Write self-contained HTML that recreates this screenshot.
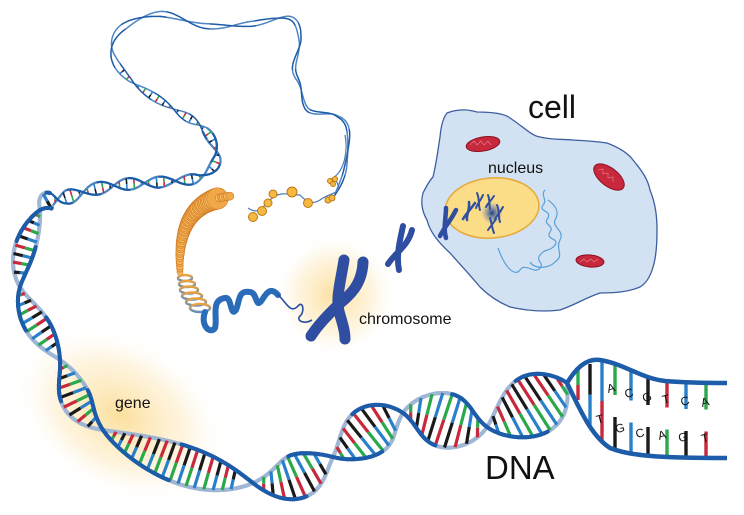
<!DOCTYPE html>
<html><head><meta charset="utf-8"><style>
html,body{margin:0;padding:0;background:#fff;width:744px;height:515px;overflow:hidden;}
svg{display:block;overflow:hidden;}
text{font-family:"Liberation Sans",Arial,sans-serif;fill:#111;}
</style></head><body>
<svg id="s" width="744" height="515" viewBox="0 0 744 515" xmlns="http://www.w3.org/2000/svg">
<defs>
<radialGradient id="glow"><stop offset="0" stop-color="#fbd98a" stop-opacity="0.85"/><stop offset="0.6" stop-color="#fde9bd" stop-opacity="0.5"/><stop offset="1" stop-color="#fff" stop-opacity="0"/></radialGradient>
<radialGradient id="blob"><stop offset="0" stop-color="#1d3f8a"/><stop offset="1" stop-color="#6f86c0" stop-opacity="0"/></radialGradient>
<linearGradient id="spr" x1="0" y1="0" x2="0" y2="1"><stop offset="0" stop-color="#f0a33c"/><stop offset="1" stop-color="#5f8fc0"/></linearGradient>
<clipPath id="cl"><rect x="0" y="0" width="744" height="515"/></clipPath>
</defs>
<g clip-path="url(#cl)">
<ellipse cx="120" cy="415" rx="115" ry="80" transform="rotate(30 120 415)" fill="url(#glow)"/>
<circle cx="335" cy="295" r="62" fill="url(#glow)"/>
<g id="dna"></g>
<g id="ladder"></g>
<g id="cone"></g>
<g fill="none" stroke="url(#spr)" stroke-width="2.5">
<ellipse cx="185" cy="278" rx="7" ry="3"/><ellipse cx="187" cy="284" rx="8" ry="3"/><ellipse cx="189" cy="290" rx="9" ry="3.5"/><ellipse cx="192" cy="296" rx="10" ry="3.5"/><ellipse cx="196" cy="302" rx="10" ry="3.5"/><ellipse cx="200" cy="308" rx="10" ry="4"/>
</g>
<path d="M205,312 C200,325 210,335 215,328 C218,318 210,300 225,298 C232,296 230,318 236,310 C240,300 238,290 250,292 C258,293 255,310 262,300 C268,290 272,288 278,295" fill="none" stroke="#2a6cb8" stroke-width="6" stroke-linecap="round"/>
<path d="M278,295 C285,300 290,315 298,306 C303,300 305,312 300,316 C296,320 303,325 312,320" fill="none" stroke="#2a4ea0" stroke-width="1.6"/>
<path d="M248,208 C258,215 262,208 270,200 C280,190 290,195 300,195 C305,200 310,206 320,200 C330,192 340,195 338,185 C335,175 330,180 333,178 C345,170 348,150 345,135" fill="none" stroke="#4a7ab8" stroke-width="1.2"/>
<g fill="#f3b940" stroke="#c07818" stroke-width="1">
<circle cx="253" cy="217" r="4.5"/><circle cx="262" cy="211" r="4.5"/><circle cx="268" cy="203" r="4"/><circle cx="273" cy="194" r="4"/><circle cx="292" cy="192" r="5"/><circle cx="308" cy="203" r="4.5"/><circle cx="328" cy="200" r="3"/><circle cx="332" cy="198" r="3"/><circle cx="330" cy="181" r="2.5"/><circle cx="335" cy="179" r="2.5"/><circle cx="333" cy="184" r="2.5"/>
</g>
<g fill="none" stroke="#2f4ea2" stroke-width="11" stroke-linecap="round">
<path d="M344,260 C340,285 335,300 340,315 C343,325 345,332 345,339"/>
<path d="M363,262 C362,285 350,295 338,305 C328,315 318,325 311,336"/>
</g>
<g fill="none" stroke="#2f4ea2" stroke-width="6" stroke-linecap="round">
<path d="M403,226 C400,240 396,255 399,270"/>
<path d="M412,230 C408,246 396,252 388,264"/>
</g>
<path d="M447,113 C460,108 470,110 477,112 C495,112 505,114 510,118 C525,128 532,136 540,137 C552,140 562,139 573,140 C590,141 600,142 607,143 C620,148 628,153 633,160 C643,172 648,180 650,190 C656,205 657,218 657,230 C657,245 656,258 653,267 C650,278 645,284 640,287 C628,292 615,293 600,293 C585,298 575,305 560,310 C545,312 528,311 510,307 C498,302 488,295 480,287 C470,275 458,262 450,253 C438,242 430,232 427,220 C421,210 421,200 423,193 C427,185 430,180 433,177 C436,165 438,150 440,137 C441,125 443,118 447,113 Z" fill="#d2e2f2" stroke="#3d5fa0" stroke-width="1.3"/>
<ellipse cx="492" cy="208" rx="47" ry="30" transform="rotate(-5 492 208)" fill="#fbdc87" stroke="#e8a83a" stroke-width="1.5"/>
<circle cx="492" cy="213" r="11" fill="url(#blob)"/>
<g fill="none" stroke="#2f4ea2" stroke-linecap="round">
<path d="M446,208 C446,218 443,228 446,238" stroke-width="4.5"/><path d="M456,210 C450,222 445,226 440,236" stroke-width="4.5"/>
<path d="M469,202 C470,210 466,215 467,220 M475,203 C470,210 466,214 463,219" stroke-width="2.5"/>
<path d="M477,193 C480,200 478,205 480,210 M483,195 C480,202 477,204 476,208" stroke-width="2"/>
<path d="M488,195 C490,200 489,204 490,209 M494,196 C490,202 488,203 486,207" stroke-width="2"/>
<path d="M497,205 C500,212 498,217 500,222 M503,207 C500,213 497,215 495,219" stroke-width="2"/>
<path d="M490,218 C492,224 492,228 494,233 M496,219 C492,225 490,227 488,230" stroke-width="2"/>
</g>
<path d="M545,190 C540,195 548,200 543,205 C538,212 552,210 548,218 C542,225 555,225 550,232 C545,240 560,238 555,245 C550,252 545,248 540,255 C535,262 545,262 540,268 C535,275 525,262 520,270 C515,277 505,268 498,248 M548,200 C555,205 560,212 555,220 C552,228 565,230 560,240 C555,250 565,255 555,262 C550,268 535,270 530,262" fill="none" stroke="#5aa0d8" stroke-width="1.2"/>
<g fill="#c8283c" stroke="#8b1020" stroke-width="1">
<ellipse cx="483" cy="144" rx="17" ry="7" transform="rotate(-10 483 144)"/>
<ellipse cx="609" cy="177" rx="18" ry="9" transform="rotate(38 609 177)"/>
<ellipse cx="590" cy="261" rx="14" ry="6" transform="rotate(5 590 261)"/>
</g>
<g fill="none" stroke="#e07080" stroke-width="0.8">
<path d="M470,145 l4,-4 l3,4 l4,-4 l3,4 l4,-4 l3,4"/><path d="M598,170 l5,-1 l0,5 l5,-1 l0,5 l5,-1 l0,5"/><path d="M580,262 l4,-3 l3,3 l4,-3 l3,3 l4,-3"/>
</g>
<text x="528" y="118" font-size="32">cell</text>
<text x="488" y="173" font-size="16">nucleus</text>
<text x="359" y="324" font-size="16">chromosome</text>
<text x="115" y="408" font-size="16">gene</text>
<text x="485" y="479" font-size="33">DNA</text>
</g>
</svg>
<script>
(function(){
var C=[[335,195,1.3,0],[345,170,1.3,0],[348,130,1.3,0],[335,115,1.3,0],[308,110,1.5,0],[300,85,1.5,0],[294,68,1.6,0],[300,40,2,0],[290,18,2,0],[250,24,2.5,0],[205,26,2.5,0],[160,14,2.7,0],[122,28,3,0],[112,52,3,0],[130,80,3.5,0],[175,110,4,0],[205,130,4,0],[217,158,4.5,0],[200,177,5,0],[160,182,5.5,0],[110,186,6,0],[65,198,7,0],
[40,210,9,1],[20,287,11,1],[60,360,13,1],[103,430,16,1],[253,483,22,1],[333,457,22,1],[403,413,26,1],[487,427,28,1],[567,383,32,1]];
var n=C.length,ph=[0];
for(var i=0;i<n-1;i++){var L=Math.hypot(C[i+1][0]-C[i][0],C[i+1][1]-C[i][1]);
 var hp=C[i][2]<4?45:30;
 if(C[i+1][3]&&C[i][3])ph.push(ph[i]+Math.PI);
 else if(C[i+1][3])ph.push(Math.ceil((ph[i]+L*Math.PI/hp)/Math.PI)*Math.PI);
 else ph.push(ph[i]+L*Math.PI/hp);}
function P(k){return C[Math.max(0,Math.min(n-1,k))];}
var S=[];
for(var i=0;i<n-1;i++){var p0=P(i-1),p1=P(i),p2=P(i+1),p3=P(i+2);
 var L=Math.hypot(p2[0]-p1[0],p2[1]-p1[1]);var N=Math.max(4,Math.ceil(L/1.2));
 for(var j=0;j<N;j++){var t=j/N,t2=t*t,t3=t2*t;
  var cr=function(a,b,c,d){return 0.5*((2*b)+(-a+c)*t+(2*a-5*b+4*c-d)*t2+(-a+3*b-3*c+d)*t3);};
  var a=p1[2]+(p2[2]-p1[2])*(0.5-0.5*Math.cos(Math.PI*t));
  S.push([cr(p0[0],p1[0],p2[0],p3[0]),cr(p0[1],p1[1],p2[1],p3[1]),a,ph[i]+t*(ph[i+1]-ph[i])]);}}
S.push([567,383,32,ph[n-1]]);
var A=[],B=[];
for(var k=0;k<S.length;k++){var q=S[Math.max(0,k-1)],r=S[Math.min(S.length-1,k+1)];
 var dx=r[0]-q[0],dy=r[1]-q[1],l=Math.hypot(dx,dy)||1,nx=-dy/l,ny=dx/l,s=Math.sin(S[k][3])*S[k][2];
 A.push([S[k][0]+nx*s,S[k][1]+ny*s]);B.push([S[k][0]-nx*s,S[k][1]-ny*s]);}
var back="",front="",rung="";
var cols=[["#c8283c","#2aa84a"],["#2a7fc9","#1a1a1a"],["#2aa84a","#c8283c"],["#1a1a1a","#2a7fc9"]];
var ci=0,acc=0;
for(var k=1;k<S.length;k++){
 var w=S[k][2]>8?4:(S[k][2]>4?2.2:1.4);
 var c=Math.cos(S[k][3]);
 var sa='<line x1="'+A[k-1][0].toFixed(1)+'" y1="'+A[k-1][1].toFixed(1)+'" x2="'+A[k][0].toFixed(1)+'" y2="'+A[k][1].toFixed(1)+'" stroke-width="'+w+'" stroke-linecap="round" stroke="';
 var sb='<line x1="'+B[k-1][0].toFixed(1)+'" y1="'+B[k-1][1].toFixed(1)+'" x2="'+B[k][0].toFixed(1)+'" y2="'+B[k][1].toFixed(1)+'" stroke-width="'+w+'" stroke-linecap="round" stroke="';
 if(c>0){front+=sa+'#1d5ca8"/>';back+=sb+(S[k][2]>8?'#9fb6d4':'#4f86c6')+'"/>';}
 else{front+=sb+'#1d5ca8"/>';back+=sa+(S[k][2]>8?'#9fb6d4':'#4f86c6')+'"/>';}
 acc+=Math.hypot(S[k][0]-S[k-1][0],S[k][1]-S[k-1][1]);
 var sp=S[k][2]>8?8:7;
 if(acc>sp&&S[k][2]>=3.4&&Math.abs(Math.sin(S[k][3]))>0.3){acc=0;ci=(ci*7+3)%4;var cc=cols[ci];
  var mx=(A[k][0]+B[k][0])/2,my=(A[k][1]+B[k][1])/2,rw=S[k][2]>8?3.2:1.6;
  rung+='<line x1="'+A[k][0].toFixed(1)+'" y1="'+A[k][1].toFixed(1)+'" x2="'+mx.toFixed(1)+'" y2="'+my.toFixed(1)+'" stroke="'+cc[0]+'" stroke-width="'+rw+'"/>';
  rung+='<line x1="'+mx.toFixed(1)+'" y1="'+my.toFixed(1)+'" x2="'+B[k][0].toFixed(1)+'" y2="'+B[k][1].toFixed(1)+'" stroke="'+cc[1]+'" stroke-width="'+rw+'"/>';}
}
document.getElementById("dna").innerHTML=back+rung+front;
var lad='';
var rx=[578,590,602,615,631,648,667,686,706],top=[370,364,362,364,370,376,380,382,383],bot=[400,425,440,448,453,456,457,458,458];
var lc=[["#2aa84a","#c8283c"],["#1a1a1a","#2a7fc9"],["#2a7fc9","#c8283c"],["#2aa84a","#1a1a1a"],["#2a7fc9","#2a7fc9"],["#1a1a1a","#1a1a1a"],["#c8283c","#2aa84a"],["#2a7fc9","#1a1a1a"],["#2aa84a","#c8283c"]];
for(var i=0;i<rx.length;i++){var m=(top[i]+bot[i])/2;var g=i>=3?11:0;
 lad+='<line x1="'+rx[i]+'" y1="'+top[i]+'" x2="'+rx[i]+'" y2="'+(m-g)+'" stroke="'+lc[i][0]+'" stroke-width="3.4"/>';
 lad+='<line x1="'+rx[i]+'" y1="'+(m+g)+'" x2="'+rx[i]+'" y2="'+bot[i]+'" stroke="'+lc[i][1]+'" stroke-width="3.4"/>';}
lad+='<path d="M567,383 C575,370 585,358 600,360 C625,364 640,378 665,381 C690,383 710,383 727,383" fill="none" stroke="#1d5ca8" stroke-width="4.5"/>';
lad+='<path d="M567,383 C578,405 590,435 610,448 C630,456 660,458 727,458" fill="none" stroke="#1d5ca8" stroke-width="4.5"/>';
var tl=["A","C","G","T","C","A"],bl=["T","G","C","A","G","T"],tx=[612,630,648,667,686,706],ty=[392,397,401,403,405,406],bx=[601,621,641,663,684,706],by=[423,432,437,439,441,442];
for(var i=0;i<6;i++){lad+='<text x="'+tx[i]+'" y="'+ty[i]+'" font-size="12" text-anchor="middle" transform="rotate(-15 '+tx[i]+' '+ty[i]+')">'+tl[i]+'</text>';
 lad+='<text x="'+bx[i]+'" y="'+by[i]+'" font-size="12" text-anchor="middle" transform="rotate(-15 '+bx[i]+' '+by[i]+')">'+bl[i]+'</text>';}
document.getElementById("ladder").innerHTML=lad;
var cone='';
for(var t=1;t>=0;t-=0.02){var u=1-t;
 var x=u*u*232+2*u*t*176+t*t*180,y=u*u*196+2*u*t*200+t*t*272;var r=t<0.12?4:9*(1-t)+3;
 cone+='<circle cx="'+x.toFixed(1)+'" cy="'+y.toFixed(1)+'" r="'+r.toFixed(1)+'" fill="'+(Math.round(t*50)%2?'#f0a848':'#f6c068')+'" stroke="#d07820" stroke-width="0.6"/>';}
document.getElementById("cone").innerHTML=cone;
})();
</script>
</body></html>
